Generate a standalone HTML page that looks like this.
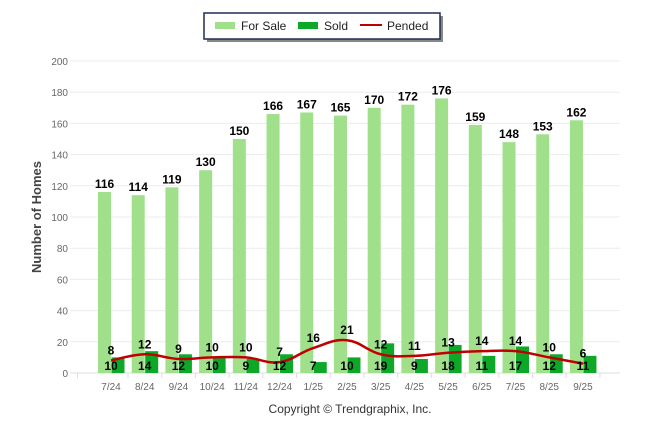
<!DOCTYPE html>
<html><head><meta charset="utf-8"><style>
html,body{margin:0;padding:0;background:#fff;}
svg{display:block;font-family:"Liberation Sans",Arial,sans-serif;}
</style></head><body>
<svg id="c" width="646" height="434" viewBox="0 0 646 434" xmlns="http://www.w3.org/2000/svg">
<g id="grid"></g>
<g id="bars"></g>
<path id="pline" fill="none" stroke="#c00000" stroke-width="2.5"/>
<g id="labels"></g>
<text x="41" y="217" transform="rotate(-90 41 217)" text-anchor="middle" font-size="13" font-weight="bold" fill="#444">Number of Homes</text>
<text x="350" y="413" text-anchor="middle" font-size="12" fill="#333">Copyright © Trendgraphix, Inc.</text>
<rect x="207" y="16" width="236" height="26" fill="#888"/>
<rect x="204" y="13" width="236" height="26" fill="#fff" stroke="#1f2d55" stroke-width="1.5"/>
<rect x="215" y="22" width="20" height="7" fill="#a0e08a"/>
<text x="241" y="30" font-size="12" fill="#222">For Sale</text>
<rect x="298" y="22" width="20" height="7" fill="#0ea828"/>
<text x="324" y="30" font-size="12" fill="#222">Sold</text>
<rect x="360" y="24" width="22" height="2" fill="#c00000"/>
<text x="387" y="30" font-size="12" fill="#222">Pended</text>
</svg>
<script>
var cats=["7/24","8/24","9/24","10/24","11/24","12/24","1/25","2/25","3/25","4/25","5/25","6/25","7/25","8/25","9/25"];
var fs=[116,114,119,130,150,166,167,165,170,172,176,159,148,153,162];
var sd=[10,14,12,10,9,12,7,10,19,9,18,11,17,12,11];
var pd=[8,12,9,10,10,7,16,21,12,11,13,14,14,10,6];
var NS="http://www.w3.org/2000/svg";
function el(p,t,a,txt){var e=document.createElementNS(NS,t);for(var k in a)e.setAttribute(k,a[k]);if(txt!==undefined)e.textContent=txt;document.getElementById(p).appendChild(e);return e;}
function Y(v){return 373-v*1.56;}
function X(i){return 111+i*33.71;}
for(var v=0;v<=200;v+=20){var y=Y(v);
 el("grid","line",{x1:70,x2:620,y1:y,y2:y,stroke:v==0?"#ddd":"#ececec","stroke-width":1});
 el("grid","text",{x:68,y:y+4,"text-anchor":"end","font-size":10,fill:"#666"},v);}
el("grid","line",{x1:77.5,x2:77.5,y1:373,y2:378,stroke:"#ddd"});
for(var i=0;i<cats.length;i++){var x=X(i);
 el("bars","rect",{x:x-13,y:Y(fs[i]),width:13,height:fs[i]*1.56,fill:"#a0e08a"});
 el("bars","rect",{x:x+0.5,y:Y(sd[i]),width:13,height:sd[i]*1.56,fill:"#0ea828"});
 el("grid","line",{x1:x+17,x2:x+17,y1:373,y2:378,stroke:"#ddd"});
 el("labels","text",{x:x-6.5,y:Y(fs[i])-4,"text-anchor":"middle","font-size":12,"font-weight":"bold",fill:"#000"},fs[i]);
 el("labels","text",{x:x,y:370,"text-anchor":"middle","font-size":12,"font-weight":"bold",fill:"#000"},sd[i]);
 el("labels","text",{x:x,y:Y(pd[i])-6,"text-anchor":"middle","font-size":12,"font-weight":"bold",fill:"#000"},pd[i]);
 el("labels","text",{x:x,y:390,"text-anchor":"middle","font-size":10,fill:"#666"},cats[i]);}
var P=pd.map(function(v,i){return [X(i),Y(v)];});
var d="M"+P[0][0]+","+P[0][1];
for(var i=0;i<P.length-1;i++){var p0=P[i>0?i-1:i],p1=P[i],p2=P[i+1],p3=P[i+2<P.length?i+2:i+1];var t=0.2;
 d+=" C"+(p1[0]+(p2[0]-p0[0])*t)+","+(p1[1]+(p2[1]-p0[1])*t)+" "+(p2[0]-(p3[0]-p1[0])*t)+","+(p2[1]-(p3[1]-p1[1])*t)+" "+p2[0]+","+p2[1];}
document.getElementById("pline").setAttribute("d",d);
</script>
</body></html>
